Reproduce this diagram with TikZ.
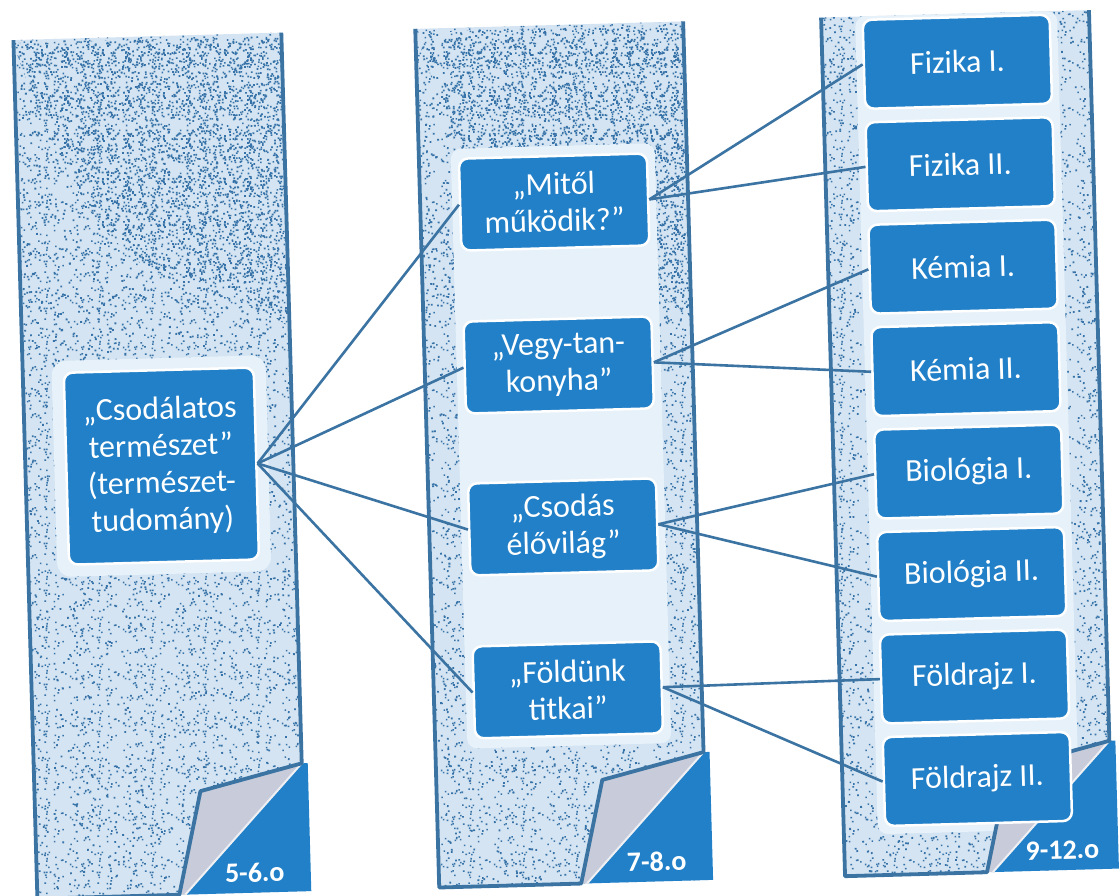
\documentclass[tikz,border=0pt]{standalone}
\usepackage{fontspec}
\setmainfont{Carlito}
\usetikzlibrary{patterns}
\definecolor{bgcol}{RGB}{212,228,242}
\definecolor{dotcol}{RGB}{55,115,168}
\definecolor{bandcol}{RGB}{231,241,250}
\definecolor{linecol}{RGB}{59,116,163}
\definecolor{boxcol}{RGB}{33,128,200}
\definecolor{foldcol}{RGB}{200,204,218}
\pgfmathsetseed{3}
\pgfdeclarepatternformonly{speckA}{\pgfpointorigin}{\pgfpoint{53pt}{47pt}}{\pgfpoint{53pt}{47pt}}{%
  \foreach \i in {1,...,55}{%
    \pgfmathsetmacro\xx{rnd*51}\pgfmathsetmacro\yy{rnd*45}%
    \pgfpathrectangle{\pgfpoint{\xx pt}{\yy pt}}{\pgfpoint{1.6pt}{1.6pt}}\pgfusepath{fill}%
  }%
}
\pgfdeclarepatternformonly{speckB}{\pgfpointorigin}{\pgfpoint{61pt}{43pt}}{\pgfpoint{61pt}{43pt}}{%
  \foreach \i in {1,...,110}{%
    \pgfmathsetmacro\xx{rnd*59}\pgfmathsetmacro\yy{rnd*41}%
    \pgfpathrectangle{\pgfpoint{\xx pt}{\yy pt}}{\pgfpoint{1.7pt}{1.7pt}}\pgfusepath{fill}%
  }%
}
\begin{document}
\begin{tikzpicture}[x=1pt,y=-1pt,
  box/.style={draw=white, line width=2.5pt, fill=boxcol, rounded corners=9pt,
    text=white, align=center, inner sep=0pt, font=\fontsize{32}{37}\selectfont},
  bigbox/.style={box, minimum width=190pt, minimum height=192pt},
  midbox/.style={box, minimum width=188pt, minimum height=92pt},
  smallbox/.style={box, minimum width=187pt, minimum height=89pt},
  conn/.style={draw=linecol, line width=2.6pt},
  border/.style={draw=linecol, line width=3.8pt, line join=round},
  tag/.style={text=white, font=\bfseries\fontsize{28}{28}\selectfont, inner sep=0pt}
]
\fill[white] (0,0) rectangle (1120,896);
\useasboundingbox (0,0) rectangle (1120,896);
\pgfmathsetseed{7}
\begin{scope}[rotate around={1.6:(560,448)}, transform shape]
  % panel backgrounds with speckle
  \foreach \L in {25,427,833}{
    \fill[bgcol] (\L,25) rectangle ({\L+268},884);
    \fill[pattern=speckA, pattern color=dotcol] (\L,25) rectangle ({\L+268},884);
    \fill[dotcol] \foreach \i in {1,...,1700} {({\L+rnd*266},{25+rnd*857}) rectangle ++(1.8,1.8)};
  }
  % denser speckle at the tops of the first two panels
  \foreach \L in {25,427}{
    \fill[pattern=speckB, pattern color=dotcol] (\L,28) .. controls ({\L+90},330) and ({\L+180},250) .. ({\L+268},320) -- ({\L+268},28) -- cycle;
    \fill[dotcol] \foreach \i in {1,...,600} {({\L+rnd*266},{28+rnd*300}) rectangle ++(1.8,1.8)};
  }
  % clean bands behind boxes
  \fill[bandcol, rounded corners=14pt] (54,347) rectangle (268,563);
  \fill[bandcol, rounded corners=10pt] (459,146) rectangle (663,746);
  \fill[bandcol, rounded corners=10pt] (867,25) rectangle (1069,843);
  % folded corners, borders and labels
  \foreach \L/\lab in {25/{5-6.o},427/{7-8.o},833/{9-12.o}}{
    \pgfmathsetmacro\R{\L+268}
    \fill[boxcol] (\R,756) -- ({\R+6},756) -- ({\R+6},884) -- ({\R-120},884) -- cycle;
    \fill[foldcol] (\R,756) -- ({\R-102},781) -- ({\R-126},884) -- ({\R-120},884) -- cycle;
    \draw[white!70!foldcol, line width=2pt] (\R,756) -- ({\R-120},884);
    \draw[border] (\R,25) -- (\R,756) -- ({\R-102},781) -- ({\R-126},884) -- (\L,884) -- (\L,25);
    \node[tag] (lab\L) at ({\R-50},864) {\lab};
  }
  % boxes
  \node[bigbox] (cs) at (161,455) {„Csodálatos\\természet”\\(természet-\\tudomány)};
  \node[midbox] (m1) at (561,202) {„Mitől\\működik?”};
  \node[midbox] (m2) at (561,365) {„Vegy-tan-\\konyha”};
  \node[midbox] (m3) at (561,527) {„Csodás\\élővilág”};
  \node[midbox] (m4) at (561,690) {„Földünk\\titkai”};
  \node[smallbox] (f1) at (968,73) {Fizika I.};
  \node[smallbox] (f2) at (968,175.5) {Fizika II.};
  \node[smallbox] (f3) at (968,278) {Kémia I.};
  \node[smallbox] (f4) at (968,380.5) {Kémia II.};
  \node[smallbox] (f5) at (968,483) {Biológia I.};
  \node[smallbox] (f6) at (968,585.5) {Biológia II.};
  \node[smallbox] (f7) at (968,688) {Földrajz I.};
  \node[smallbox] (f8) at (968,790.5) {Földrajz II.};
  % connectors
  \foreach \m in {m1,m2,m3,m4}{\draw[conn] (cs.east) -- (\m.west);}
  \draw[conn] (m1.east) -- (f1.west); \draw[conn] (m1.east) -- (f2.west);
  \draw[conn] (m2.east) -- (f3.west); \draw[conn] (m2.east) -- (f4.west);
  \draw[conn] (m3.east) -- (f5.west); \draw[conn] (m3.east) -- (f6.west);
  \draw[conn] (m4.east) -- (f7.west); \draw[conn] (m4.east) -- (f8.west);
\end{scope}
\end{tikzpicture}
\end{document}
